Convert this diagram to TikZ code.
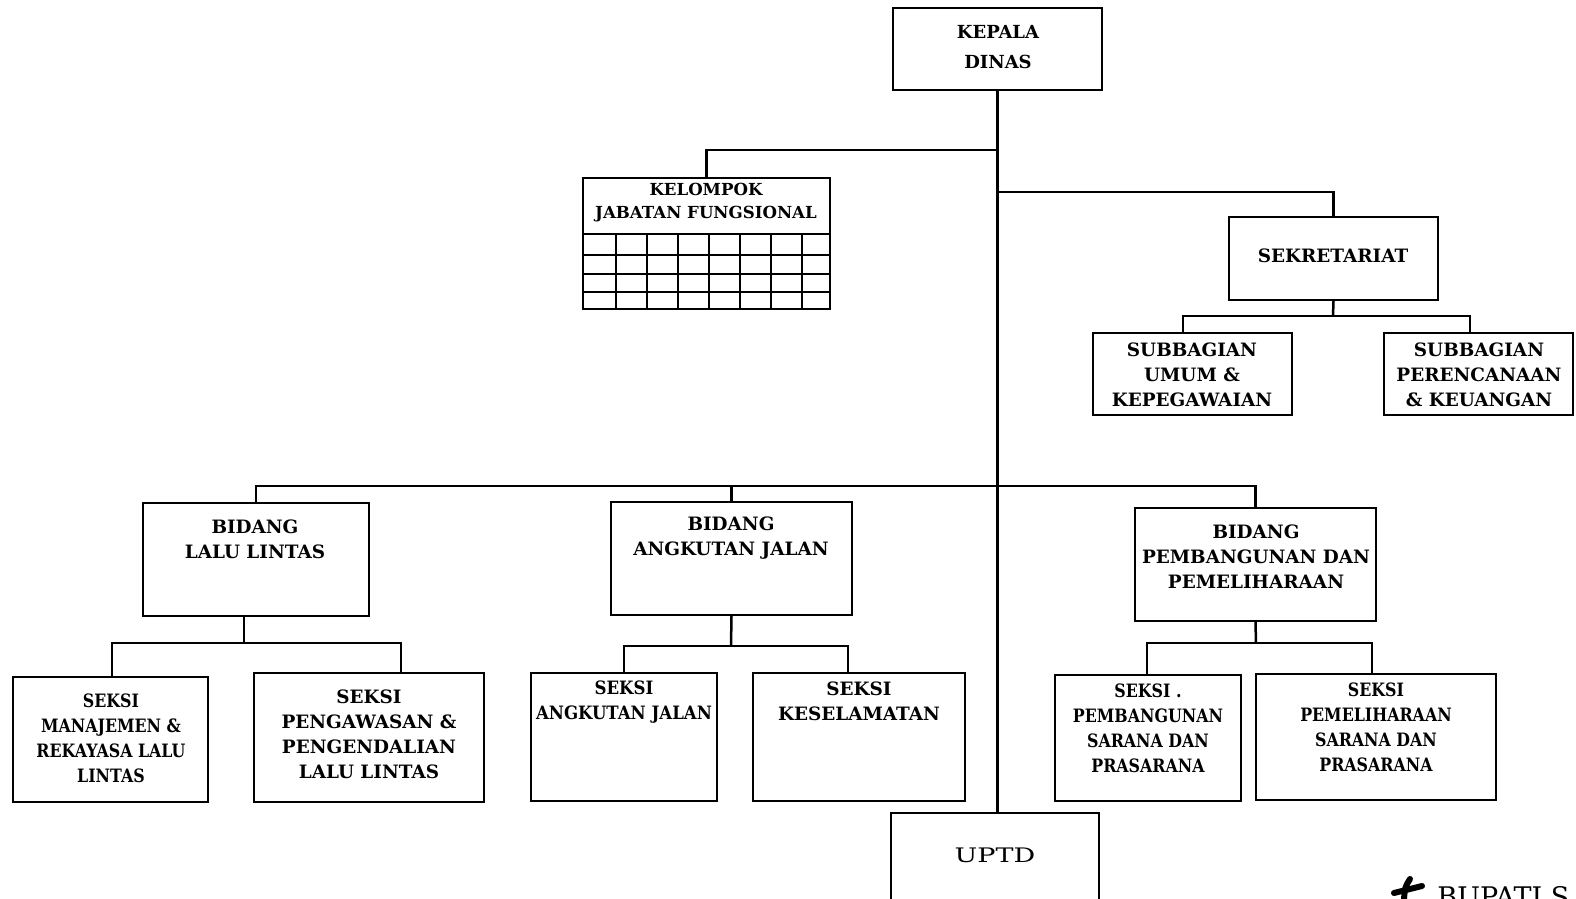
\documentclass[tikz,border=0pt]{standalone}
\usepackage{fontspec}
\setmainfont{DejaVu Serif}
\usetikzlibrary{fit}

\tikzset{
  orgbox/.style={draw, line width=1.1pt, inner sep=0pt},
  lbl/.style={align=center, inner sep=0pt, font=\bfseries\fontsize{9.2}{12.5}\selectfont},
  narrow/.style={font=\bfseries\addfontfeature{FakeStretch=#1}\fontsize{9.2}{12.5}\selectfont},
  conn/.style={line width=1.25pt},
}
\newcommand{\unitbox}[5]{\node[orgbox, fit={(#2,#3) (#4,#5)}] (#1) {};}

\begin{document}
\begin{tikzpicture}[x=0.5pt,y=-0.5pt]
\useasboundingbox (0,0) rectangle (1576,899);

% ---- boxes ----
\unitbox{kd}{893}{8}{1102}{90}
\unitbox{uptd}{891}{813}{1099}{905}
\unitbox{jf}{583}{178}{830}{309}
\unitbox{sek}{1229}{217}{1438}{300}
\unitbox{sumum}{1093}{333}{1292}{415}
\unitbox{sren}{1384}{333}{1573}{415}
\unitbox{bll}{143}{503}{369}{616}
\unitbox{baj}{611}{502}{852}{615}
\unitbox{bpp}{1135}{508}{1376}{621}
\unitbox{smr}{13}{677}{208}{802}
\unitbox{spp}{254}{673}{484}{802}
\unitbox{saj}{531}{673}{717}{801}
\unitbox{skl}{753}{673}{965}{801}
\unitbox{spb}{1055}{675}{1241}{801}
\unitbox{spl}{1256}{674}{1496}{800}

% grid of the functional group
\foreach \y in {234,255,274,292}
  \draw[line width=0.9pt] (583,\y) -- (830,\y);
\foreach \x in {616,647,678,709,740,771,802}
  \draw[line width=0.9pt] (\x,234) -- (\x,309);

% ---- labels ----
\node[lbl, font=\bfseries\fontsize{9}{15}\selectfont] (tkd) at (998,47) {KEPALA\\DINAS};
\node[lbl, font=\bfseries\fontsize{8.3}{11.5}\selectfont] (tjf) at (706,202.5) {KELOMPOK\\JABATAN FUNGSIONAL};
\node[lbl] (tsek) at (1333,256) {SEKRETARIAT};
\node[lbl] (tsumum) at (1192,374.5) {SUBBAGIAN\\UMUM \&\\KEPEGAWAIAN};
\node[lbl] (tsren) at (1479,374.5) {SUBBAGIAN\\PERENCANAAN\\\& KEUANGAN};
\node[lbl] (tbll) at (255,539.5) {BIDANG\\LALU LINTAS};
\node[lbl] (tbaj) at (731,538.5) {BIDANG\\ANGKUTAN JALAN};
\node[lbl] (tbpp) at (1256,556.5) {BIDANG\\PEMBANGUNAN DAN\\PEMELIHARAAN};
\node[lbl, narrow=0.86] (tsmr) at (111,738.5) {SEKSI\\MANAJEMEN \&\\REKAYASA LALU\\LINTAS};
\node[lbl] (tspp) at (369,734.5) {SEKSI\\PENGAWASAN \&\\PENGENDALIAN\\LALU LINTAS};
\node[lbl, narrow=0.9] (tsaj) at (624,702.5) {SEKSI\\ANGKUTAN JALAN};
\node[lbl] (tskl) at (859,701.5) {SEKSI\\KESELAMATAN};
\node[lbl, narrow=0.86] (tspb) at (1148,728.5) {SEKSI .\\PEMBANGUNAN\\SARANA DAN\\PRASARANA};
\node[lbl, narrow=0.86] (tspl) at (1376,727.5) {SEKSI\\PEMELIHARAAN\\SARANA DAN\\PRASARANA};
\node[lbl, font=\addfontfeature{FakeStretch=1.35}\fontsize{10}{12}\selectfont] (tuptd) at (995,855) {UPTD};

% ---- junction points ----
\coordinate (jjf)  at (998,150);
\coordinate (jsek) at (998,192);
\coordinate (bus)  at (998,486);
\coordinate (ssub) at (1333,316);
\coordinate (ssubL) at (1183,316);
\coordinate (ssubR) at (1470,316);
\coordinate (lll)  at (244,643);
\coordinate (lllL) at (112,643);
\coordinate (lllR) at (401,643);
\coordinate (aaj)  at (731,646);
\coordinate (aajL) at (624,646);
\coordinate (aajR) at (848,646);
\coordinate (ppb)  at (1256,643);
\coordinate (ppbL) at (1147,643);
\coordinate (ppbR) at (1372,643);

% ---- connectors ----
\draw[conn] (kd.south) -- (kd.south |- uptd.north);
\draw[conn] (jf.north) |- (jjf);
\draw[conn] (sek.north) |- (jsek);
\draw[conn] (sek.south) -- (ssub);
\draw[conn] (ssubL |- sumum.north) |- (ssubR) -- (ssubR |- sren.north);
\draw[conn] (bll.north) |- (bus) -| (bpp.north);
\draw[conn] (baj.north) -- (baj.north |- bus);
\draw[conn] (lll |- bll.south) -- (lll);
\draw[conn] (lllL |- smr.north) |- (lllR) -- (lllR |- spp.north);
\draw[conn] (baj.south) -- (aaj);
\draw[conn] (aajL |- saj.north) |- (aajR) -- (aajR |- skl.north);
\draw[conn] (bpp.south) -- (ppb);
\draw[conn] (ppbL |- spb.north) |- (ppbR) -- (ppbR |- spl.north);

% ---- signature line at the foot ----
\draw[line width=3pt, line cap=round] (1394,893) -- (1422,886);
\draw[line width=3pt, line cap=round] (1410,879) .. controls (1405,887) .. (1404,899);
\node[anchor=base west, inner sep=0pt, font=\fontsize{13.5}{13.5}\selectfont] (bup) at (1437,906) {BUPATI S};
\end{tikzpicture}
\end{document}
